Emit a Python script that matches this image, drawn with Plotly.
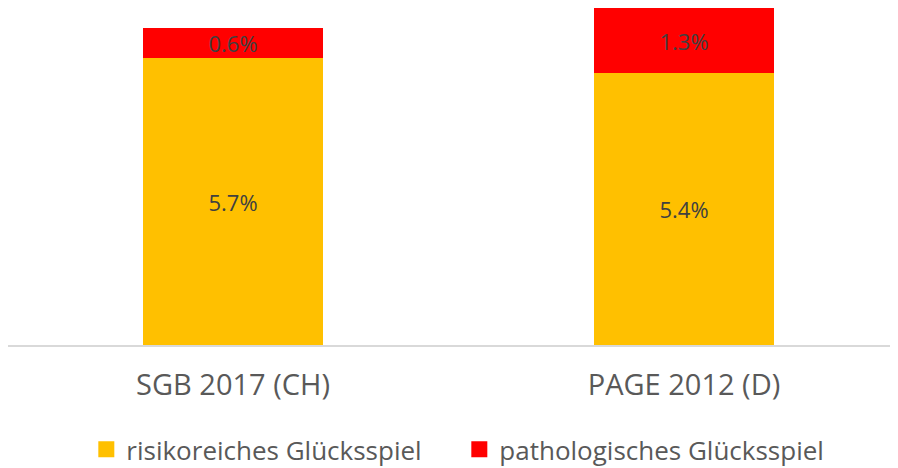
import plotly.graph_objects as go

categories = ["SGB 2017 (CH)", "PAGE 2012 (D)"]
risk_values = [5.7, 5.4]
patho_values = [0.6, 1.3]
series_names = ["risikoreiches Glücksspiel", "pathologisches Glücksspiel"]
series_colors = ["#FFC000", "#FF0000"]

FONT = "Open Sans"
x_idx = list(range(len(categories)))

fig = go.Figure()
for vals, name, col in zip([risk_values, patho_values], series_names, series_colors):
    fig.add_trace(go.Bar(
        x=x_idx, y=vals, name=name,
        marker=dict(color=col, line=dict(width=0)),
        width=0.4, showlegend=False,
        texttemplate="%{y:.1f}%", textposition="inside", insidetextanchor="middle",
        textfont=dict(family=FONT, size=22, color="#404040"),
        constraintext="none",
    ))
# legend entries with square swatches
for name, col in zip(series_names, series_colors):
    fig.add_trace(go.Scatter(
        x=[None], y=[None], mode="markers", name=name,
        marker=dict(symbol="square", size=16, color=col, line=dict(width=0)),
        showlegend=True, hoverinfo="skip",
    ))

fig.update_layout(
    width=890, height=460,
    margin=dict(l=0, r=0, t=0, b=123, autoexpand=False),
    paper_bgcolor="white", plot_bgcolor="white",
    barmode="stack",
    font=dict(family=FONT, color="#595959"),
    xaxis=dict(
        tickmode="array", tickvals=x_idx, ticktext=categories,
        range=[-0.499, 1.4745], automargin=False,
        showline=True, linecolor="#D9D9D9", linewidth=2,
        ticks="outside", ticklen=13, tickcolor="rgba(0,0,0,0)",
        tickfont=dict(family=FONT, size=29, color="#595959"),
        showgrid=False, zeroline=False,
    ),
    yaxis=dict(range=[0, 6.7], visible=False, showgrid=False, zeroline=False,
               automargin=False),
    showlegend=True,
    legend=dict(
        orientation="h", x=0.088, xanchor="left", y=-0.31, yanchor="middle",
        font=dict(family=FONT, size=26, color="#595959"),
        traceorder="normal", entrywidth=328, entrywidthmode="pixels",
        itemsizing="trace",
    ),
)

fig.write_html("out.html")
